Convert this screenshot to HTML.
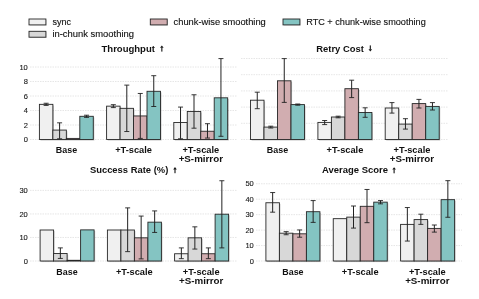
<!DOCTYPE html><html><head><meta charset="utf-8"><style>html,body{margin:0;padding:0;background:#fff;overflow:hidden}svg{display:block;font-family:"Liberation Sans",sans-serif}svg{will-change:transform}</style></head><body>
<svg width="479" height="299" viewBox="0 0 479 299">
<rect width="479" height="299" fill="#fff"/>
<rect x="29.8" y="19.8" width="16.9" height="5.9" fill="#000" opacity="0.15"/>
<rect x="29.0" y="19.0" width="16.9" height="5.9" fill="#f0f0f0" stroke="#262626" stroke-width="0.9"/>
<text x="52.4" y="24.7" font-size="8.7" font-weight="normal" text-anchor="start" textLength="18.6" lengthAdjust="spacingAndGlyphs" fill="#111" stroke="#111" stroke-width="0.12">sync</text>
<rect x="29.8" y="32.1" width="16.9" height="5.9" fill="#000" opacity="0.15"/>
<rect x="29.0" y="31.3" width="16.9" height="5.9" fill="#d8d8d8" stroke="#262626" stroke-width="0.9"/>
<text x="52.4" y="36.6" font-size="8.7" font-weight="normal" text-anchor="start" textLength="81.6" lengthAdjust="spacingAndGlyphs" fill="#111" stroke="#111" stroke-width="0.12">in-chunk smoothing</text>
<rect x="151.10000000000002" y="19.8" width="16.9" height="5.9" fill="#000" opacity="0.15"/>
<rect x="150.3" y="19.0" width="16.9" height="5.9" fill="#d1adb0" stroke="#262626" stroke-width="0.9"/>
<text x="173.6" y="24.7" font-size="8.7" font-weight="normal" text-anchor="start" textLength="92.2" lengthAdjust="spacingAndGlyphs" fill="#111" stroke="#111" stroke-width="0.12">chunk-wise smoothing</text>
<rect x="283.8" y="19.8" width="16.9" height="5.9" fill="#000" opacity="0.15"/>
<rect x="283" y="19.0" width="16.9" height="5.9" fill="#84c4c2" stroke="#262626" stroke-width="0.9"/>
<text x="306.2" y="24.7" font-size="8.7" font-weight="normal" text-anchor="start" textLength="119.6" lengthAdjust="spacingAndGlyphs" fill="#111" stroke="#111" stroke-width="0.12">RTC + chunk-wise smoothing</text>
<line x1="30" y1="139.50" x2="237" y2="139.50" stroke="#e0e0e0" stroke-width="0.8" stroke-dasharray="1.5,1.0"/>
<text x="27.8" y="142.2" font-size="7.5" font-weight="normal" text-anchor="end" fill="#1a1a1a" stroke="#1a1a1a" stroke-width="0.12">0</text>
<line x1="30" y1="125.00" x2="237" y2="125.00" stroke="#e0e0e0" stroke-width="0.8" stroke-dasharray="1.5,1.0"/>
<text x="27.8" y="127.7" font-size="7.5" font-weight="normal" text-anchor="end" fill="#1a1a1a" stroke="#1a1a1a" stroke-width="0.12">2</text>
<line x1="30" y1="110.50" x2="237" y2="110.50" stroke="#e0e0e0" stroke-width="0.8" stroke-dasharray="1.5,1.0"/>
<text x="27.8" y="113.2" font-size="7.5" font-weight="normal" text-anchor="end" fill="#1a1a1a" stroke="#1a1a1a" stroke-width="0.12">4</text>
<line x1="30" y1="96.00" x2="237" y2="96.00" stroke="#e0e0e0" stroke-width="0.8" stroke-dasharray="1.5,1.0"/>
<text x="27.8" y="98.7" font-size="7.5" font-weight="normal" text-anchor="end" fill="#1a1a1a" stroke="#1a1a1a" stroke-width="0.12">6</text>
<line x1="30" y1="81.50" x2="237" y2="81.50" stroke="#e0e0e0" stroke-width="0.8" stroke-dasharray="1.5,1.0"/>
<text x="27.8" y="84.2" font-size="7.5" font-weight="normal" text-anchor="end" fill="#1a1a1a" stroke="#1a1a1a" stroke-width="0.12">8</text>
<line x1="30" y1="67.00" x2="237" y2="67.00" stroke="#e0e0e0" stroke-width="0.8" stroke-dasharray="1.5,1.0"/>
<text x="27.8" y="69.7" font-size="7.5" font-weight="normal" text-anchor="end" fill="#1a1a1a" stroke="#1a1a1a" stroke-width="0.12">10</text>
<rect x="40.50" y="105.44" width="13.47" height="35.16" fill="#000" opacity="0.2"/>
<rect x="53.97" y="131.17" width="13.47" height="9.43" fill="#000" opacity="0.2"/>
<rect x="67.44" y="139.51" width="13.47" height="1.09" fill="#000" opacity="0.2"/>
<rect x="80.91" y="117.40" width="13.47" height="23.20" fill="#000" opacity="0.2"/>
<rect x="39.40" y="104.34" width="13.47" height="35.16" fill="#f0f0f0" stroke="#262626" stroke-width="0.9"/>
<rect x="52.87" y="130.07" width="13.47" height="9.43" fill="#d8d8d8" stroke="#262626" stroke-width="0.9"/>
<rect x="66.34" y="138.41" width="13.47" height="1.09" fill="#d1adb0" stroke="#262626" stroke-width="0.9"/>
<rect x="79.81" y="116.30" width="13.47" height="23.20" fill="#84c4c2" stroke="#262626" stroke-width="0.9"/>
<line x1="46.13" y1="105.42" x2="46.13" y2="103.25" stroke="#222222" stroke-width="1.0"/>
<line x1="43.63" y1="105.42" x2="48.63" y2="105.42" stroke="#222222" stroke-width="0.9"/>
<line x1="43.63" y1="103.25" x2="48.63" y2="103.25" stroke="#222222" stroke-width="0.9"/>
<line x1="59.60" y1="138.78" x2="59.60" y2="122.83" stroke="#222222" stroke-width="1.0"/>
<line x1="57.10" y1="138.78" x2="62.10" y2="138.78" stroke="#222222" stroke-width="0.9"/>
<line x1="57.10" y1="122.83" x2="62.10" y2="122.83" stroke="#222222" stroke-width="0.9"/>
<line x1="86.55" y1="117.39" x2="86.55" y2="115.21" stroke="#222222" stroke-width="1.0"/>
<line x1="84.05" y1="117.39" x2="89.05" y2="117.39" stroke="#222222" stroke-width="0.9"/>
<line x1="84.05" y1="115.21" x2="89.05" y2="115.21" stroke="#222222" stroke-width="0.9"/>
<rect x="107.70" y="107.25" width="13.47" height="33.35" fill="#000" opacity="0.2"/>
<rect x="121.17" y="109.42" width="13.47" height="31.17" fill="#000" opacity="0.2"/>
<rect x="134.64" y="117.04" width="13.47" height="23.56" fill="#000" opacity="0.2"/>
<rect x="148.11" y="92.39" width="13.47" height="48.21" fill="#000" opacity="0.2"/>
<rect x="106.60" y="106.15" width="13.47" height="33.35" fill="#f0f0f0" stroke="#262626" stroke-width="0.9"/>
<rect x="120.07" y="108.33" width="13.47" height="31.17" fill="#d8d8d8" stroke="#262626" stroke-width="0.9"/>
<rect x="133.54" y="115.94" width="13.47" height="23.56" fill="#d1adb0" stroke="#262626" stroke-width="0.9"/>
<rect x="147.01" y="91.29" width="13.47" height="48.21" fill="#84c4c2" stroke="#262626" stroke-width="0.9"/>
<line x1="113.33" y1="107.60" x2="113.33" y2="104.70" stroke="#222222" stroke-width="1.0"/>
<line x1="110.83" y1="107.60" x2="115.83" y2="107.60" stroke="#222222" stroke-width="0.9"/>
<line x1="110.83" y1="104.70" x2="115.83" y2="104.70" stroke="#222222" stroke-width="0.9"/>
<line x1="126.80" y1="131.53" x2="126.80" y2="85.12" stroke="#222222" stroke-width="1.0"/>
<line x1="124.30" y1="131.53" x2="129.31" y2="131.53" stroke="#222222" stroke-width="0.9"/>
<line x1="124.30" y1="85.12" x2="129.31" y2="85.12" stroke="#222222" stroke-width="0.9"/>
<line x1="140.28" y1="138.41" x2="140.28" y2="93.46" stroke="#222222" stroke-width="1.0"/>
<line x1="137.78" y1="138.41" x2="142.78" y2="138.41" stroke="#222222" stroke-width="0.9"/>
<line x1="137.78" y1="93.46" x2="142.78" y2="93.46" stroke="#222222" stroke-width="0.9"/>
<line x1="153.75" y1="106.51" x2="153.75" y2="75.70" stroke="#222222" stroke-width="1.0"/>
<line x1="151.25" y1="106.51" x2="156.25" y2="106.51" stroke="#222222" stroke-width="0.9"/>
<line x1="151.25" y1="75.70" x2="156.25" y2="75.70" stroke="#222222" stroke-width="0.9"/>
<rect x="174.90" y="123.56" width="13.47" height="17.04" fill="#000" opacity="0.2"/>
<rect x="188.37" y="112.54" width="13.47" height="28.06" fill="#000" opacity="0.2"/>
<rect x="201.84" y="132.34" width="13.47" height="8.26" fill="#000" opacity="0.2"/>
<rect x="215.31" y="98.91" width="13.47" height="41.69" fill="#000" opacity="0.2"/>
<rect x="173.80" y="122.46" width="13.47" height="17.04" fill="#f0f0f0" stroke="#262626" stroke-width="0.9"/>
<rect x="187.27" y="111.44" width="13.47" height="28.06" fill="#d8d8d8" stroke="#262626" stroke-width="0.9"/>
<rect x="200.74" y="131.24" width="13.47" height="8.26" fill="#d1adb0" stroke="#262626" stroke-width="0.9"/>
<rect x="214.21" y="97.81" width="13.47" height="41.69" fill="#84c4c2" stroke="#262626" stroke-width="0.9"/>
<line x1="180.54" y1="138.78" x2="180.54" y2="107.09" stroke="#222222" stroke-width="1.0"/>
<line x1="178.04" y1="138.78" x2="183.04" y2="138.78" stroke="#222222" stroke-width="0.9"/>
<line x1="178.04" y1="107.09" x2="183.04" y2="107.09" stroke="#222222" stroke-width="0.9"/>
<line x1="194.01" y1="128.19" x2="194.01" y2="94.77" stroke="#222222" stroke-width="1.0"/>
<line x1="191.51" y1="128.19" x2="196.51" y2="128.19" stroke="#222222" stroke-width="0.9"/>
<line x1="191.51" y1="94.77" x2="196.51" y2="94.77" stroke="#222222" stroke-width="0.9"/>
<line x1="207.48" y1="138.05" x2="207.48" y2="123.69" stroke="#222222" stroke-width="1.0"/>
<line x1="204.98" y1="138.05" x2="209.98" y2="138.05" stroke="#222222" stroke-width="0.9"/>
<line x1="204.98" y1="123.69" x2="209.98" y2="123.69" stroke="#222222" stroke-width="0.9"/>
<line x1="220.95" y1="136.31" x2="220.95" y2="58.59" stroke="#222222" stroke-width="1.0"/>
<line x1="218.45" y1="136.31" x2="223.45" y2="136.31" stroke="#222222" stroke-width="0.9"/>
<line x1="218.45" y1="58.59" x2="223.45" y2="58.59" stroke="#222222" stroke-width="0.9"/>
<line x1="241" y1="139.50" x2="448" y2="139.50" stroke="#e0e0e0" stroke-width="0.8" stroke-dasharray="1.5,1.0"/>
<line x1="241" y1="123.30" x2="448" y2="123.30" stroke="#e0e0e0" stroke-width="0.8" stroke-dasharray="1.5,1.0"/>
<line x1="241" y1="107.10" x2="448" y2="107.10" stroke="#e0e0e0" stroke-width="0.8" stroke-dasharray="1.5,1.0"/>
<line x1="241" y1="90.90" x2="448" y2="90.90" stroke="#e0e0e0" stroke-width="0.8" stroke-dasharray="1.5,1.0"/>
<line x1="241" y1="74.70" x2="448" y2="74.70" stroke="#e0e0e0" stroke-width="0.8" stroke-dasharray="1.5,1.0"/>
<line x1="241" y1="58.50" x2="448" y2="58.50" stroke="#e0e0e0" stroke-width="0.8" stroke-dasharray="1.5,1.0"/>
<rect x="251.60" y="101.30" width="13.50" height="39.30" fill="#000" opacity="0.2"/>
<rect x="265.10" y="128.20" width="13.50" height="12.40" fill="#000" opacity="0.2"/>
<rect x="278.60" y="81.90" width="13.50" height="58.70" fill="#000" opacity="0.2"/>
<rect x="292.10" y="105.70" width="13.50" height="34.90" fill="#000" opacity="0.2"/>
<rect x="250.50" y="100.20" width="13.50" height="39.30" fill="#f0f0f0" stroke="#262626" stroke-width="0.9"/>
<rect x="264.00" y="127.10" width="13.50" height="12.40" fill="#d8d8d8" stroke="#262626" stroke-width="0.9"/>
<rect x="277.50" y="80.80" width="13.50" height="58.70" fill="#d1adb0" stroke="#262626" stroke-width="0.9"/>
<rect x="291.00" y="104.60" width="13.50" height="34.90" fill="#84c4c2" stroke="#262626" stroke-width="0.9"/>
<line x1="257.25" y1="108.70" x2="257.25" y2="92.20" stroke="#222222" stroke-width="1.0"/>
<line x1="254.75" y1="108.70" x2="259.75" y2="108.70" stroke="#222222" stroke-width="0.9"/>
<line x1="254.75" y1="92.20" x2="259.75" y2="92.20" stroke="#222222" stroke-width="0.9"/>
<line x1="270.75" y1="128.00" x2="270.75" y2="126.20" stroke="#222222" stroke-width="1.0"/>
<line x1="268.25" y1="128.00" x2="273.25" y2="128.00" stroke="#222222" stroke-width="0.9"/>
<line x1="268.25" y1="126.20" x2="273.25" y2="126.20" stroke="#222222" stroke-width="0.9"/>
<line x1="284.25" y1="102.40" x2="284.25" y2="58.60" stroke="#222222" stroke-width="1.0"/>
<line x1="281.75" y1="102.40" x2="286.75" y2="102.40" stroke="#222222" stroke-width="0.9"/>
<line x1="281.75" y1="58.60" x2="286.75" y2="58.60" stroke="#222222" stroke-width="0.9"/>
<line x1="297.75" y1="105.20" x2="297.75" y2="104.00" stroke="#222222" stroke-width="1.0"/>
<line x1="295.25" y1="105.20" x2="300.25" y2="105.20" stroke="#222222" stroke-width="0.9"/>
<line x1="295.25" y1="104.00" x2="300.25" y2="104.00" stroke="#222222" stroke-width="0.9"/>
<rect x="319.00" y="123.50" width="13.50" height="17.10" fill="#000" opacity="0.2"/>
<rect x="332.50" y="118.10" width="13.50" height="22.50" fill="#000" opacity="0.2"/>
<rect x="346.00" y="89.80" width="13.50" height="50.80" fill="#000" opacity="0.2"/>
<rect x="359.50" y="113.60" width="13.50" height="27.00" fill="#000" opacity="0.2"/>
<rect x="317.90" y="122.40" width="13.50" height="17.10" fill="#f0f0f0" stroke="#262626" stroke-width="0.9"/>
<rect x="331.40" y="117.00" width="13.50" height="22.50" fill="#d8d8d8" stroke="#262626" stroke-width="0.9"/>
<rect x="344.90" y="88.70" width="13.50" height="50.80" fill="#d1adb0" stroke="#262626" stroke-width="0.9"/>
<rect x="358.40" y="112.50" width="13.50" height="27.00" fill="#84c4c2" stroke="#262626" stroke-width="0.9"/>
<line x1="324.65" y1="124.60" x2="324.65" y2="120.50" stroke="#222222" stroke-width="1.0"/>
<line x1="322.15" y1="124.60" x2="327.15" y2="124.60" stroke="#222222" stroke-width="0.9"/>
<line x1="322.15" y1="120.50" x2="327.15" y2="120.50" stroke="#222222" stroke-width="0.9"/>
<line x1="338.15" y1="117.80" x2="338.15" y2="116.20" stroke="#222222" stroke-width="1.0"/>
<line x1="335.65" y1="117.80" x2="340.65" y2="117.80" stroke="#222222" stroke-width="0.9"/>
<line x1="335.65" y1="116.20" x2="340.65" y2="116.20" stroke="#222222" stroke-width="0.9"/>
<line x1="351.65" y1="97.60" x2="351.65" y2="80.20" stroke="#222222" stroke-width="1.0"/>
<line x1="349.15" y1="97.60" x2="354.15" y2="97.60" stroke="#222222" stroke-width="0.9"/>
<line x1="349.15" y1="80.20" x2="354.15" y2="80.20" stroke="#222222" stroke-width="0.9"/>
<line x1="365.15" y1="117.30" x2="365.15" y2="107.80" stroke="#222222" stroke-width="1.0"/>
<line x1="362.65" y1="117.30" x2="367.65" y2="117.30" stroke="#222222" stroke-width="0.9"/>
<line x1="362.65" y1="107.80" x2="367.65" y2="107.80" stroke="#222222" stroke-width="0.9"/>
<rect x="386.30" y="109.10" width="13.50" height="31.50" fill="#000" opacity="0.2"/>
<rect x="399.80" y="125.20" width="13.50" height="15.40" fill="#000" opacity="0.2"/>
<rect x="413.30" y="104.70" width="13.50" height="35.90" fill="#000" opacity="0.2"/>
<rect x="426.80" y="107.50" width="13.50" height="33.10" fill="#000" opacity="0.2"/>
<rect x="385.20" y="108.00" width="13.50" height="31.50" fill="#f0f0f0" stroke="#262626" stroke-width="0.9"/>
<rect x="398.70" y="124.10" width="13.50" height="15.40" fill="#d8d8d8" stroke="#262626" stroke-width="0.9"/>
<rect x="412.20" y="103.60" width="13.50" height="35.90" fill="#d1adb0" stroke="#262626" stroke-width="0.9"/>
<rect x="425.70" y="106.40" width="13.50" height="33.10" fill="#84c4c2" stroke="#262626" stroke-width="0.9"/>
<line x1="391.95" y1="113.10" x2="391.95" y2="102.60" stroke="#222222" stroke-width="1.0"/>
<line x1="389.45" y1="113.10" x2="394.45" y2="113.10" stroke="#222222" stroke-width="0.9"/>
<line x1="389.45" y1="102.60" x2="394.45" y2="102.60" stroke="#222222" stroke-width="0.9"/>
<line x1="405.45" y1="129.10" x2="405.45" y2="118.70" stroke="#222222" stroke-width="1.0"/>
<line x1="402.95" y1="129.10" x2="407.95" y2="129.10" stroke="#222222" stroke-width="0.9"/>
<line x1="402.95" y1="118.70" x2="407.95" y2="118.70" stroke="#222222" stroke-width="0.9"/>
<line x1="418.95" y1="108.00" x2="418.95" y2="99.40" stroke="#222222" stroke-width="1.0"/>
<line x1="416.45" y1="108.00" x2="421.45" y2="108.00" stroke="#222222" stroke-width="0.9"/>
<line x1="416.45" y1="99.40" x2="421.45" y2="99.40" stroke="#222222" stroke-width="0.9"/>
<line x1="432.45" y1="110.00" x2="432.45" y2="102.60" stroke="#222222" stroke-width="1.0"/>
<line x1="429.95" y1="110.00" x2="434.95" y2="110.00" stroke="#222222" stroke-width="0.9"/>
<line x1="429.95" y1="102.60" x2="434.95" y2="102.60" stroke="#222222" stroke-width="0.9"/>
<line x1="30" y1="261.00" x2="237" y2="261.00" stroke="#e0e0e0" stroke-width="0.8" stroke-dasharray="1.5,1.0"/>
<text x="27.8" y="263.7" font-size="7.5" font-weight="normal" text-anchor="end" fill="#1a1a1a" stroke="#1a1a1a" stroke-width="0.12">0</text>
<line x1="30" y1="237.47" x2="237" y2="237.47" stroke="#e0e0e0" stroke-width="0.8" stroke-dasharray="1.5,1.0"/>
<text x="27.8" y="240.17" font-size="7.5" font-weight="normal" text-anchor="end" fill="#1a1a1a" stroke="#1a1a1a" stroke-width="0.12">10</text>
<line x1="30" y1="213.94" x2="237" y2="213.94" stroke="#e0e0e0" stroke-width="0.8" stroke-dasharray="1.5,1.0"/>
<text x="27.8" y="216.64" font-size="7.5" font-weight="normal" text-anchor="end" fill="#1a1a1a" stroke="#1a1a1a" stroke-width="0.12">20</text>
<line x1="30" y1="190.41" x2="237" y2="190.41" stroke="#e0e0e0" stroke-width="0.8" stroke-dasharray="1.5,1.0"/>
<text x="27.8" y="193.10999999999999" font-size="7.5" font-weight="normal" text-anchor="end" fill="#1a1a1a" stroke="#1a1a1a" stroke-width="0.12">30</text>
<rect x="41.20" y="231.09" width="13.50" height="31.00" fill="#000" opacity="0.2"/>
<rect x="54.70" y="254.61" width="13.50" height="7.49" fill="#000" opacity="0.2"/>
<rect x="68.20" y="261.40" width="13.50" height="0.70" fill="#000" opacity="0.2"/>
<rect x="81.70" y="230.98" width="13.50" height="31.12" fill="#000" opacity="0.2"/>
<rect x="40.10" y="230.00" width="13.50" height="31.00" fill="#f0f0f0" stroke="#262626" stroke-width="0.9"/>
<rect x="53.60" y="253.51" width="13.50" height="7.49" fill="#d8d8d8" stroke="#262626" stroke-width="0.9"/>
<rect x="67.10" y="260.30" width="13.50" height="0.70" fill="#d1adb0" stroke="#262626" stroke-width="0.9"/>
<rect x="80.60" y="229.88" width="13.50" height="31.12" fill="#84c4c2" stroke="#262626" stroke-width="0.9"/>
<line x1="60.35" y1="258.43" x2="60.35" y2="247.90" stroke="#222222" stroke-width="1.0"/>
<line x1="57.85" y1="258.43" x2="62.85" y2="258.43" stroke="#222222" stroke-width="0.9"/>
<line x1="57.85" y1="247.90" x2="62.85" y2="247.90" stroke="#222222" stroke-width="0.9"/>
<rect x="108.50" y="231.09" width="13.50" height="31.00" fill="#000" opacity="0.2"/>
<rect x="122.00" y="231.09" width="13.50" height="31.00" fill="#000" opacity="0.2"/>
<rect x="135.50" y="238.93" width="13.50" height="23.17" fill="#000" opacity="0.2"/>
<rect x="149.00" y="223.26" width="13.50" height="38.84" fill="#000" opacity="0.2"/>
<rect x="107.40" y="230.00" width="13.50" height="31.00" fill="#f0f0f0" stroke="#262626" stroke-width="0.9"/>
<rect x="120.90" y="230.00" width="13.50" height="31.00" fill="#d8d8d8" stroke="#262626" stroke-width="0.9"/>
<rect x="134.40" y="237.83" width="13.50" height="23.17" fill="#d1adb0" stroke="#262626" stroke-width="0.9"/>
<rect x="147.90" y="222.16" width="13.50" height="38.84" fill="#84c4c2" stroke="#262626" stroke-width="0.9"/>
<line x1="127.65" y1="251.64" x2="127.65" y2="207.88" stroke="#222222" stroke-width="1.0"/>
<line x1="125.15" y1="251.64" x2="130.15" y2="251.64" stroke="#222222" stroke-width="0.9"/>
<line x1="125.15" y1="207.88" x2="130.15" y2="207.88" stroke="#222222" stroke-width="0.9"/>
<line x1="141.15" y1="258.89" x2="141.15" y2="216.07" stroke="#222222" stroke-width="1.0"/>
<line x1="138.65" y1="258.89" x2="143.65" y2="258.89" stroke="#222222" stroke-width="0.9"/>
<line x1="138.65" y1="216.07" x2="143.65" y2="216.07" stroke="#222222" stroke-width="0.9"/>
<line x1="154.65" y1="232.45" x2="154.65" y2="210.92" stroke="#222222" stroke-width="1.0"/>
<line x1="152.15" y1="232.45" x2="157.15" y2="232.45" stroke="#222222" stroke-width="0.9"/>
<line x1="152.15" y1="210.92" x2="157.15" y2="210.92" stroke="#222222" stroke-width="0.9"/>
<rect x="175.70" y="254.85" width="13.50" height="7.25" fill="#000" opacity="0.2"/>
<rect x="189.20" y="238.93" width="13.50" height="23.17" fill="#000" opacity="0.2"/>
<rect x="202.70" y="254.85" width="13.50" height="7.25" fill="#000" opacity="0.2"/>
<rect x="216.20" y="215.30" width="13.50" height="46.80" fill="#000" opacity="0.2"/>
<rect x="174.60" y="253.75" width="13.50" height="7.25" fill="#f0f0f0" stroke="#262626" stroke-width="0.9"/>
<rect x="188.10" y="237.83" width="13.50" height="23.17" fill="#d8d8d8" stroke="#262626" stroke-width="0.9"/>
<rect x="201.60" y="253.75" width="13.50" height="7.25" fill="#d1adb0" stroke="#262626" stroke-width="0.9"/>
<rect x="215.10" y="214.20" width="13.50" height="46.80" fill="#84c4c2" stroke="#262626" stroke-width="0.9"/>
<line x1="181.35" y1="258.66" x2="181.35" y2="247.90" stroke="#222222" stroke-width="1.0"/>
<line x1="178.85" y1="258.66" x2="183.85" y2="258.66" stroke="#222222" stroke-width="0.9"/>
<line x1="178.85" y1="247.90" x2="183.85" y2="247.90" stroke="#222222" stroke-width="0.9"/>
<line x1="194.85" y1="249.07" x2="194.85" y2="226.84" stroke="#222222" stroke-width="1.0"/>
<line x1="192.35" y1="249.07" x2="197.35" y2="249.07" stroke="#222222" stroke-width="0.9"/>
<line x1="192.35" y1="226.84" x2="197.35" y2="226.84" stroke="#222222" stroke-width="0.9"/>
<line x1="208.35" y1="258.66" x2="208.35" y2="247.90" stroke="#222222" stroke-width="1.0"/>
<line x1="205.85" y1="258.66" x2="210.85" y2="258.66" stroke="#222222" stroke-width="0.9"/>
<line x1="205.85" y1="247.90" x2="210.85" y2="247.90" stroke="#222222" stroke-width="0.9"/>
<line x1="221.85" y1="247.90" x2="221.85" y2="180.74" stroke="#222222" stroke-width="1.0"/>
<line x1="219.35" y1="247.90" x2="224.35" y2="247.90" stroke="#222222" stroke-width="0.9"/>
<line x1="219.35" y1="180.74" x2="224.35" y2="180.74" stroke="#222222" stroke-width="0.9"/>
<line x1="256" y1="261.00" x2="462" y2="261.00" stroke="#e0e0e0" stroke-width="0.8" stroke-dasharray="1.5,1.0"/>
<text x="253.8" y="263.7" font-size="7.5" font-weight="normal" text-anchor="end" fill="#1a1a1a" stroke="#1a1a1a" stroke-width="0.12">0</text>
<line x1="256" y1="245.55" x2="462" y2="245.55" stroke="#e0e0e0" stroke-width="0.8" stroke-dasharray="1.5,1.0"/>
<text x="253.8" y="248.25" font-size="7.5" font-weight="normal" text-anchor="end" fill="#1a1a1a" stroke="#1a1a1a" stroke-width="0.12">10</text>
<line x1="256" y1="230.10" x2="462" y2="230.10" stroke="#e0e0e0" stroke-width="0.8" stroke-dasharray="1.5,1.0"/>
<text x="253.8" y="232.79999999999998" font-size="7.5" font-weight="normal" text-anchor="end" fill="#1a1a1a" stroke="#1a1a1a" stroke-width="0.12">20</text>
<line x1="256" y1="214.65" x2="462" y2="214.65" stroke="#e0e0e0" stroke-width="0.8" stroke-dasharray="1.5,1.0"/>
<text x="253.8" y="217.35" font-size="7.5" font-weight="normal" text-anchor="end" fill="#1a1a1a" stroke="#1a1a1a" stroke-width="0.12">30</text>
<line x1="256" y1="199.20" x2="462" y2="199.20" stroke="#e0e0e0" stroke-width="0.8" stroke-dasharray="1.5,1.0"/>
<text x="253.8" y="201.89999999999998" font-size="7.5" font-weight="normal" text-anchor="end" fill="#1a1a1a" stroke="#1a1a1a" stroke-width="0.12">40</text>
<line x1="256" y1="183.75" x2="462" y2="183.75" stroke="#e0e0e0" stroke-width="0.8" stroke-dasharray="1.5,1.0"/>
<text x="253.8" y="186.45" font-size="7.5" font-weight="normal" text-anchor="end" fill="#1a1a1a" stroke="#1a1a1a" stroke-width="0.12">50</text>
<rect x="267.00" y="203.85" width="13.50" height="58.25" fill="#000" opacity="0.2"/>
<rect x="280.50" y="234.29" width="13.50" height="27.81" fill="#000" opacity="0.2"/>
<rect x="294.00" y="234.91" width="13.50" height="27.19" fill="#000" opacity="0.2"/>
<rect x="307.50" y="212.81" width="13.50" height="49.29" fill="#000" opacity="0.2"/>
<rect x="265.90" y="202.75" width="13.50" height="58.25" fill="#f0f0f0" stroke="#262626" stroke-width="0.9"/>
<rect x="279.40" y="233.19" width="13.50" height="27.81" fill="#d8d8d8" stroke="#262626" stroke-width="0.9"/>
<rect x="292.90" y="233.81" width="13.50" height="27.19" fill="#d1adb0" stroke="#262626" stroke-width="0.9"/>
<rect x="306.40" y="211.71" width="13.50" height="49.29" fill="#84c4c2" stroke="#262626" stroke-width="0.9"/>
<line x1="272.65" y1="212.18" x2="272.65" y2="192.56" stroke="#222222" stroke-width="1.0"/>
<line x1="270.15" y1="212.18" x2="275.15" y2="212.18" stroke="#222222" stroke-width="0.9"/>
<line x1="270.15" y1="192.56" x2="275.15" y2="192.56" stroke="#222222" stroke-width="0.9"/>
<line x1="286.15" y1="234.74" x2="286.15" y2="231.65" stroke="#222222" stroke-width="1.0"/>
<line x1="283.65" y1="234.74" x2="288.65" y2="234.74" stroke="#222222" stroke-width="0.9"/>
<line x1="283.65" y1="231.65" x2="288.65" y2="231.65" stroke="#222222" stroke-width="0.9"/>
<line x1="299.65" y1="237.21" x2="299.65" y2="229.95" stroke="#222222" stroke-width="1.0"/>
<line x1="297.15" y1="237.21" x2="302.15" y2="237.21" stroke="#222222" stroke-width="0.9"/>
<line x1="297.15" y1="229.95" x2="302.15" y2="229.95" stroke="#222222" stroke-width="0.9"/>
<line x1="313.15" y1="222.38" x2="313.15" y2="200.59" stroke="#222222" stroke-width="1.0"/>
<line x1="310.65" y1="222.38" x2="315.65" y2="222.38" stroke="#222222" stroke-width="0.9"/>
<line x1="310.65" y1="200.59" x2="315.65" y2="200.59" stroke="#222222" stroke-width="0.9"/>
<rect x="334.35" y="219.77" width="13.50" height="42.33" fill="#000" opacity="0.2"/>
<rect x="347.85" y="218.22" width="13.50" height="43.88" fill="#000" opacity="0.2"/>
<rect x="361.35" y="207.41" width="13.50" height="54.69" fill="#000" opacity="0.2"/>
<rect x="374.85" y="203.24" width="13.50" height="58.86" fill="#000" opacity="0.2"/>
<rect x="333.25" y="218.67" width="13.50" height="42.33" fill="#f0f0f0" stroke="#262626" stroke-width="0.9"/>
<rect x="346.75" y="217.12" width="13.50" height="43.88" fill="#d8d8d8" stroke="#262626" stroke-width="0.9"/>
<rect x="360.25" y="206.31" width="13.50" height="54.69" fill="#d1adb0" stroke="#262626" stroke-width="0.9"/>
<rect x="373.75" y="202.14" width="13.50" height="58.86" fill="#84c4c2" stroke="#262626" stroke-width="0.9"/>
<line x1="353.50" y1="228.09" x2="353.50" y2="206.00" stroke="#222222" stroke-width="1.0"/>
<line x1="351.00" y1="228.09" x2="356.00" y2="228.09" stroke="#222222" stroke-width="0.9"/>
<line x1="351.00" y1="206.00" x2="356.00" y2="206.00" stroke="#222222" stroke-width="0.9"/>
<line x1="367.00" y1="222.68" x2="367.00" y2="189.47" stroke="#222222" stroke-width="1.0"/>
<line x1="364.50" y1="222.68" x2="369.50" y2="222.68" stroke="#222222" stroke-width="0.9"/>
<line x1="364.50" y1="189.47" x2="369.50" y2="189.47" stroke="#222222" stroke-width="0.9"/>
<line x1="380.50" y1="203.84" x2="380.50" y2="200.59" stroke="#222222" stroke-width="1.0"/>
<line x1="378.00" y1="203.84" x2="383.00" y2="203.84" stroke="#222222" stroke-width="0.9"/>
<line x1="378.00" y1="200.59" x2="383.00" y2="200.59" stroke="#222222" stroke-width="0.9"/>
<rect x="401.70" y="225.48" width="13.50" height="36.62" fill="#000" opacity="0.2"/>
<rect x="415.20" y="220.69" width="13.50" height="41.41" fill="#000" opacity="0.2"/>
<rect x="428.70" y="229.50" width="13.50" height="32.60" fill="#000" opacity="0.2"/>
<rect x="442.20" y="200.76" width="13.50" height="61.34" fill="#000" opacity="0.2"/>
<rect x="400.60" y="224.38" width="13.50" height="36.62" fill="#f0f0f0" stroke="#262626" stroke-width="0.9"/>
<rect x="414.10" y="219.59" width="13.50" height="41.41" fill="#d8d8d8" stroke="#262626" stroke-width="0.9"/>
<rect x="427.60" y="228.40" width="13.50" height="32.60" fill="#d1adb0" stroke="#262626" stroke-width="0.9"/>
<rect x="441.10" y="199.66" width="13.50" height="61.34" fill="#84c4c2" stroke="#262626" stroke-width="0.9"/>
<line x1="407.35" y1="241.07" x2="407.35" y2="207.54" stroke="#222222" stroke-width="1.0"/>
<line x1="404.85" y1="241.07" x2="409.85" y2="241.07" stroke="#222222" stroke-width="0.9"/>
<line x1="404.85" y1="207.54" x2="409.85" y2="207.54" stroke="#222222" stroke-width="0.9"/>
<line x1="420.85" y1="224.38" x2="420.85" y2="214.19" stroke="#222222" stroke-width="1.0"/>
<line x1="418.35" y1="224.38" x2="423.35" y2="224.38" stroke="#222222" stroke-width="0.9"/>
<line x1="418.35" y1="214.19" x2="423.35" y2="214.19" stroke="#222222" stroke-width="0.9"/>
<line x1="434.35" y1="232.11" x2="434.35" y2="225.00" stroke="#222222" stroke-width="1.0"/>
<line x1="431.85" y1="232.11" x2="436.85" y2="232.11" stroke="#222222" stroke-width="0.9"/>
<line x1="431.85" y1="225.00" x2="436.85" y2="225.00" stroke="#222222" stroke-width="0.9"/>
<line x1="447.85" y1="217.28" x2="447.85" y2="180.66" stroke="#222222" stroke-width="1.0"/>
<line x1="445.35" y1="217.28" x2="450.35" y2="217.28" stroke="#222222" stroke-width="0.9"/>
<line x1="445.35" y1="180.66" x2="450.35" y2="180.66" stroke="#222222" stroke-width="0.9"/>
<text x="101.5" y="51.7" font-size="8.5" font-weight="bold" text-anchor="start" textLength="53.4" lengthAdjust="spacingAndGlyphs" fill="#111">Throughput</text>
<path d="M160.05 47.80 L161.85 45.40 L163.65 47.80 Z" fill="#111"/>
<rect x="161.30" y="47.50" width="1.1" height="4.10" fill="#111"/>
<text x="316.2" y="51.7" font-size="8.5" font-weight="bold" text-anchor="start" textLength="47.7" lengthAdjust="spacingAndGlyphs" fill="#111">Retry Cost</text>
<path d="M368.50 49.20 L370.30 51.60 L372.10 49.20 Z" fill="#111"/>
<rect x="369.75" y="45.40" width="1.1" height="4.10" fill="#111"/>
<text x="89.9" y="173.4" font-size="8.5" font-weight="bold" text-anchor="start" textLength="78.4" lengthAdjust="spacingAndGlyphs" fill="#111">Success Rate (%)</text>
<path d="M173.20 169.40 L175.00 167.00 L176.80 169.40 Z" fill="#111"/>
<rect x="174.45" y="169.10" width="1.1" height="4.10" fill="#111"/>
<text x="322.0" y="173.4" font-size="8.5" font-weight="bold" text-anchor="start" textLength="66" lengthAdjust="spacingAndGlyphs" fill="#111">Average Score</text>
<path d="M392.30 169.60 L394.10 167.20 L395.90 169.60 Z" fill="#111"/>
<rect x="393.55" y="169.30" width="1.1" height="4.00" fill="#111"/>
<text x="66.5" y="152.8" font-size="8.4" font-weight="bold" text-anchor="middle" textLength="21.3" lengthAdjust="spacingAndGlyphs" fill="#111">Base</text>
<text x="133.55" y="152.8" font-size="8.4" font-weight="bold" text-anchor="middle" textLength="36.8" lengthAdjust="spacingAndGlyphs" fill="#111">+T-scale</text>
<text x="200.8" y="152.60000000000002" font-size="8.4" font-weight="bold" text-anchor="middle" textLength="36.8" lengthAdjust="spacingAndGlyphs" fill="#111">+T-scale</text>
<text x="200.8" y="161.70000000000002" font-size="8.4" font-weight="bold" text-anchor="middle" textLength="44.3" lengthAdjust="spacingAndGlyphs" fill="#111">+S-mirror</text>
<text x="277.5" y="152.8" font-size="8.4" font-weight="bold" text-anchor="middle" textLength="21.3" lengthAdjust="spacingAndGlyphs" fill="#111">Base</text>
<text x="344.9" y="152.8" font-size="8.4" font-weight="bold" text-anchor="middle" textLength="36.8" lengthAdjust="spacingAndGlyphs" fill="#111">+T-scale</text>
<text x="412.0" y="152.60000000000002" font-size="8.4" font-weight="bold" text-anchor="middle" textLength="36.8" lengthAdjust="spacingAndGlyphs" fill="#111">+T-scale</text>
<text x="412.0" y="161.70000000000002" font-size="8.4" font-weight="bold" text-anchor="middle" textLength="44.3" lengthAdjust="spacingAndGlyphs" fill="#111">+S-mirror</text>
<text x="67.0" y="275.0" font-size="8.4" font-weight="bold" text-anchor="middle" textLength="21.3" lengthAdjust="spacingAndGlyphs" fill="#111">Base</text>
<text x="134.3" y="275.0" font-size="8.4" font-weight="bold" text-anchor="middle" textLength="36.8" lengthAdjust="spacingAndGlyphs" fill="#111">+T-scale</text>
<text x="201.2" y="274.8" font-size="8.4" font-weight="bold" text-anchor="middle" textLength="36.8" lengthAdjust="spacingAndGlyphs" fill="#111">+T-scale</text>
<text x="201.2" y="283.9" font-size="8.4" font-weight="bold" text-anchor="middle" textLength="44.3" lengthAdjust="spacingAndGlyphs" fill="#111">+S-mirror</text>
<text x="292.9" y="275.0" font-size="8.4" font-weight="bold" text-anchor="middle" textLength="21.3" lengthAdjust="spacingAndGlyphs" fill="#111">Base</text>
<text x="360.2" y="275.0" font-size="8.4" font-weight="bold" text-anchor="middle" textLength="36.8" lengthAdjust="spacingAndGlyphs" fill="#111">+T-scale</text>
<text x="427.3" y="274.8" font-size="8.4" font-weight="bold" text-anchor="middle" textLength="36.8" lengthAdjust="spacingAndGlyphs" fill="#111">+T-scale</text>
<text x="427.3" y="283.9" font-size="8.4" font-weight="bold" text-anchor="middle" textLength="44.3" lengthAdjust="spacingAndGlyphs" fill="#111">+S-mirror</text>
</svg></body></html>
